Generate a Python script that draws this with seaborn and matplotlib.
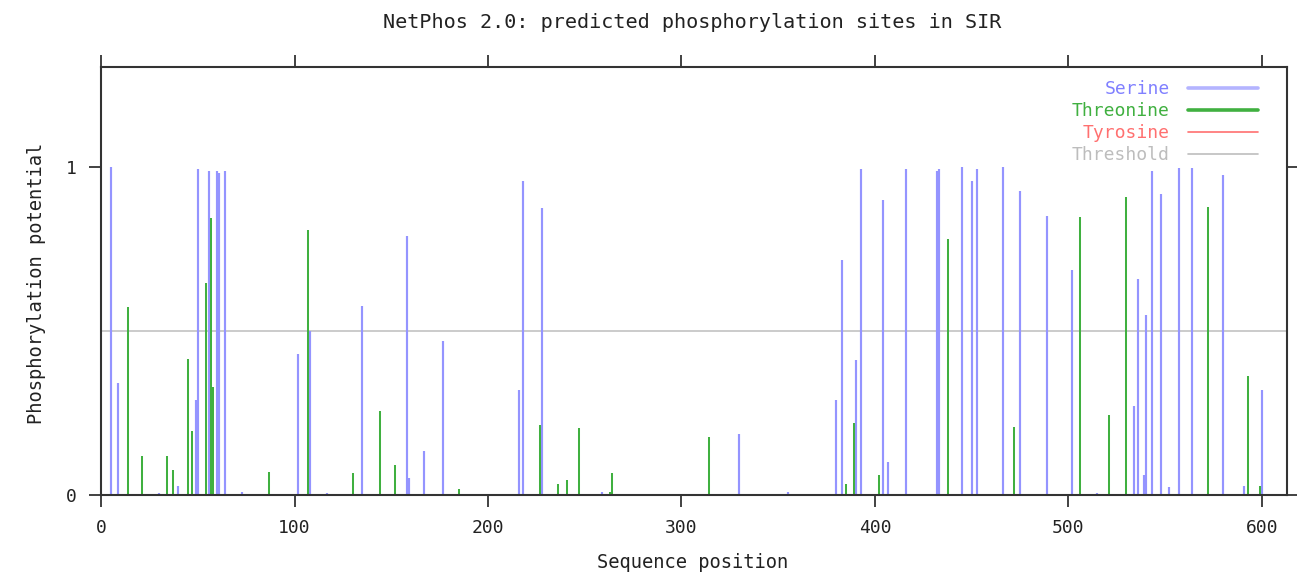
import numpy as np
import pandas as pd
import matplotlib
matplotlib.use('Agg')
import matplotlib.pyplot as plt
import seaborn as sns

# NetPhos 2.0 结果
serine_pos = [5, 9, 30, 40, 49, 50, 56, 60, 61, 64, 73, 102, 108, 117, 135,
              158, 159, 167, 177, 216, 218, 228, 259, 330, 355, 380, 383, 390,
              393, 404, 407, 416, 432, 433, 445, 450, 453, 466, 475, 489, 502,
              515, 534, 536, 539, 540, 543, 548, 552, 557, 564, 580, 591, 600]
serine_val = [1.0, 0.34, 0.006, 0.027, 0.29, 0.993, 0.988, 0.988, 0.98, 0.988,
              0.01, 0.43, 0.50, 0.005, 0.575, 0.79, 0.053, 0.134, 0.47, 0.32,
              0.957, 0.876, 0.01, 0.185, 0.01, 0.29, 0.716, 0.41, 0.993, 0.90,
              0.10, 0.993, 0.986, 0.993, 1.0, 0.957, 0.993, 1.0, 0.925, 0.851,
              0.686, 0.005, 0.27, 0.658, 0.061, 0.548, 0.988, 0.917, 0.025,
              0.995, 0.995, 0.976, 0.027, 0.319]

threonine_pos = [14, 21, 34, 37, 45, 47, 54, 57, 58, 87, 107, 130, 144, 152,
                 185, 227, 236, 241, 247, 263, 264, 314, 385, 389, 402, 438,
                 472, 506, 521, 530, 572, 593, 599]
threonine_val = [0.572, 0.118, 0.12, 0.077, 0.413, 0.195, 0.645, 0.843, 0.33,
                 0.071, 0.807, 0.068, 0.256, 0.091, 0.017, 0.213, 0.035, 0.047,
                 0.203, 0.01, 0.068, 0.178, 0.035, 0.22, 0.061, 0.78, 0.208,
                 0.846, 0.245, 0.909, 0.877, 0.362, 0.027]

tyrosine_pos = []
tyrosine_val = []

threshold = 0.5
seq_len = 613

colors = {'Serine': '#9494ff', 'Threonine': '#40b040',
          'Tyrosine': '#ff7070', 'Threshold': '#bdbdbd'}

df = pd.concat([
    pd.DataFrame({'pos': serine_pos, 'score': serine_val, 'residue': 'Serine'}),
    pd.DataFrame({'pos': threonine_pos, 'score': threonine_val, 'residue': 'Threonine'}),
    pd.DataFrame({'pos': tyrosine_pos, 'score': tyrosine_val, 'residue': 'Tyrosine'}),
], ignore_index=True)

sns.set_theme(style='white')
plt.rcParams['font.family'] = ['DejaVu Sans Mono']

fig = plt.figure(figsize=(12.97, 5.74), dpi=100)
ax = fig.add_axes([0.0779, 0.1376, 0.9144, 0.7462])

# 阈值线
thr = pd.DataFrame({'x': [0, seq_len], 'y': [threshold, threshold]})
sns.lineplot(data=thr, x='x', y='y', ax=ax, color=colors['Threshold'], lw=1.1)

# impulses
for res, lw in [('Serine', 1.55), ('Threonine', 1.45), ('Tyrosine', 1.0)]:
    sub = df[df['residue'] == res]
    if len(sub):
        ax.vlines(sub['pos'], 0, sub['score'], colors=colors[res], lw=lw)

ax.set_xlim(0, seq_len)
ax.set_ylim(0, 1.305)
ax.set_xticks(range(0, 601, 100))
ax.set_yticks([0, 1])
ax.set_xlabel('')
ax.set_ylabel('')
ax.tick_params(axis='both', direction='out', length=8.5, width=1.3,
               color='#333333', labelsize=13, top=True, right=True,
               bottom=True, left=True, pad=9, labelcolor='#222222')
for sp in ax.spines.values():
    sp.set_visible(True)
    sp.set_color('#333333')
    sp.set_linewidth(1.5)

# legend
handles = [
    plt.Line2D([], [], color='#b4b4ff', lw=2.6),
    plt.Line2D([], [], color=colors['Threonine'], lw=2.6),
    plt.Line2D([], [], color=colors['Tyrosine'], lw=1.2),
    plt.Line2D([], [], color=colors['Threshold'], lw=1.2),
]
labels = ['Serine', 'Threonine', 'Tyrosine', 'Threshold']
leg = ax.legend(handles, labels, loc='upper right', frameon=False,
                markerfirst=False, fontsize=13, handlelength=3.9,
                handletextpad=1.0, labelspacing=0.22,
                bbox_to_anchor=(0.982, 0.985), borderaxespad=0)
for txt, lab in zip(leg.get_texts(), labels):
    txt.set_color(colors[lab] if lab != 'Serine' else '#8080ff')
    txt.set_ha('right')

fig.text(0.534, 1 - 22 / 574, 'NetPhos 2.0: predicted phosphorylation sites in SIR',
         ha='center', va='center', fontsize=14.5, color='#222222')
fig.text(0.534, 1 - 562 / 574, 'Sequence position', ha='center', va='center',
         fontsize=13.5, color='#222222')
fig.text(37 / 1297, 1 - 283 / 574, 'Phosphorylation potential', ha='center',
         va='center', rotation=90, fontsize=13.5, color='#222222')

fig.savefig('out.png', dpi=100)
